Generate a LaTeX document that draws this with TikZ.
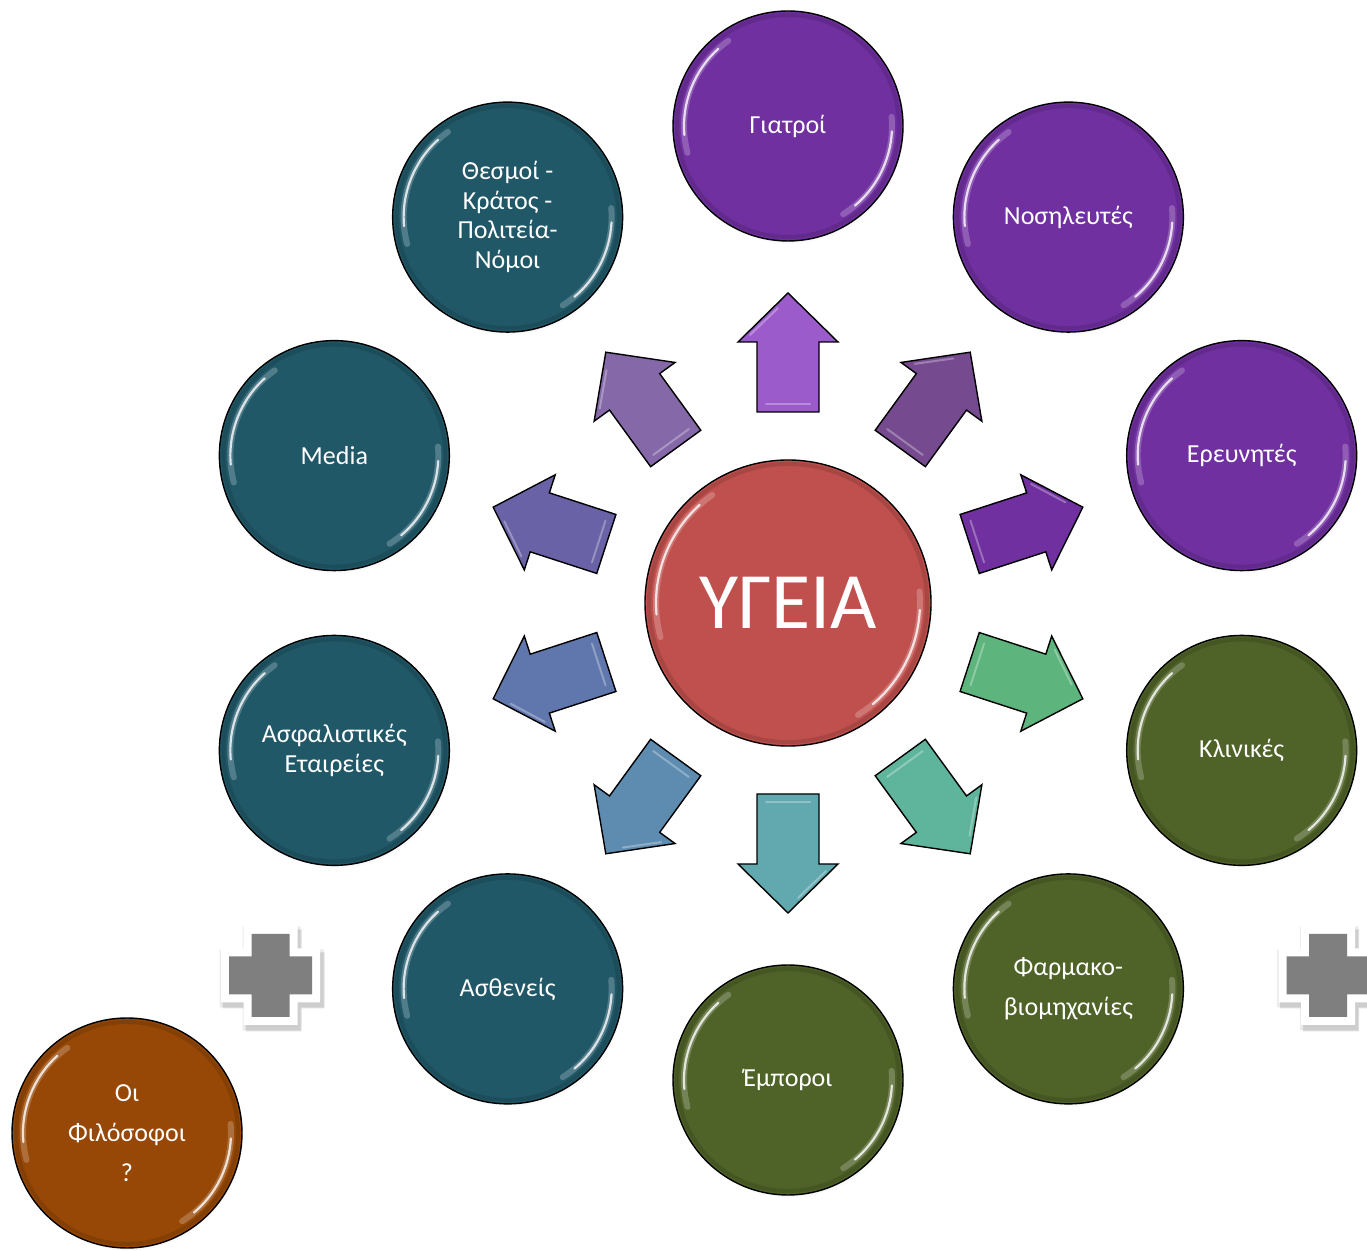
\documentclass[tikz,border=0pt]{standalone}
\usepackage{fontspec}
\setmainfont{Carlito}
\usetikzlibrary{shadows}
\definecolor{cpurple}{HTML}{7030A0}
\definecolor{cgreen}{HTML}{4F6228}
\definecolor{cteal}{HTML}{215868}
\definecolor{cred}{HTML}{C0504D}
\definecolor{corange}{HTML}{974806}
\definecolor{crossgray}{HTML}{7F7F7F}
\definecolor{aA}{HTML}{9B5BCB}
\definecolor{aB}{HTML}{754A8F}
\definecolor{aC}{HTML}{7030A0}
\definecolor{aD}{HTML}{5DB47C}
\definecolor{aE}{HTML}{5FB49C}
\definecolor{aF}{HTML}{61A9AE}
\definecolor{aG}{HTML}{5E8CB1}
\definecolor{aH}{HTML}{6077AD}
\definecolor{aI}{HTML}{6A62A6}
\definecolor{aJ}{HTML}{8468A8}
\tikzset{
  ball/.style={circle, draw=black, line width=1.4pt, minimum size=230pt, inner sep=0pt,
    text=white, align=center, font=\fontsize{26}{29.5}\selectfont,
    circular drop shadow={shadow xshift=1.5pt, shadow yshift=-3pt, opacity=0.3, shadow scale=1.0}},
  bigball/.style={ball, minimum size=286pt, font=\fontsize{80}{90}\selectfont},
  arrowbox/.style={draw=black, line width=1.4pt, line join=miter},
  gloss/.style={white, line cap=round, line width=2.2pt, opacity=0.8},
  glosswide/.style={white, line cap=round, line width=6pt, opacity=0.22},
  rim/.style={black, line width=4pt, opacity=0.12},
}
\newcommand\radarrow[2]{%
  \begin{scope}[shift={(788,647)}, rotate=#1]
    \draw[arrowbox, fill=#2] (191,-31) -- (261,-31) -- (261,-50) -- (310,0) -- (261,50) -- (261,31) -- (191,31) -- cycle;
    \draw[white, opacity=0.3, line width=2pt, line cap=round] (199,-22) -- (199,22);
    \draw[white, opacity=0.3, line width=2pt, line cap=round] (268,38) -- (295,10);
  \end{scope}}
\newcommand\glossy[2]{% node name, radius
  \draw[glosswide] ([shift={(125:#2)}]#1.center) arc[start angle=125, end angle=195, radius=#2];
  \draw[gloss] ([shift={(132:#2)}]#1.center) arc[start angle=132, end angle=185, radius=#2];
  \draw[glosswide] ([shift={(5:#2)}]#1.center) arc[start angle=5, end angle=-58, radius=#2];
  \draw[gloss] ([shift={(-3:#2)}]#1.center) arc[start angle=-3, end angle=-50, radius=#2];
}
\newcommand\plusshape[2]{% half length, half width
  (-#2,#1) -- (#2,#1) -- (#2,#2) -- (#1,#2) -- (#1,-#2) -- (#2,-#2) -- (#2,-#1) -- (-#2,-#1) -- (-#2,-#2) -- (-#1,-#2) -- (-#1,#2) -- (-#2,#2) -- cycle}
\newcommand\medcross[2]{%
  \begin{scope}[shift={(#1,#2)}]
    \fill[black, opacity=0.12] [shift={(3,-5)}] \plusshape{51}{28};
    \fill[black, opacity=0.08] [shift={(1,-3)}] \plusshape{52}{29};
    \fill[white] \plusshape{49.5}{27};
    \fill[crossgray] \plusshape{41.5}{19};
  \end{scope}}
\begin{document}
\begin{tikzpicture}[x=1pt, y=1pt]
  \clip (0,0) rectangle (1367,1250);
  \useasboundingbox (0,0) rectangle (1367,1250);
  \fill[white] (0,0) rectangle (1367,1250);
  \coordinate (C) at (788,647);

  % arrows
  \radarrow{90}{aA}
  \radarrow{54}{aB}
  \radarrow{18}{aC}
  \radarrow{-18}{aD}
  \radarrow{-54}{aE}
  \radarrow{-90}{aF}
  \radarrow{-126}{aG}
  \radarrow{-162}{aH}
  \radarrow{162}{aI}
  \radarrow{126}{aJ}

  % center
  \node[bigball, fill=cred] (health) at (C) {ΥΓΕΙΑ};
  \draw[rim] (health.center) circle[radius=139];
  \glossy{health}{132}

  % surrounding circles
  \node[ball, fill=cpurple] (giatroi) at ([shift={(90:477)}]C) {Γιατροί};
  \node[ball, fill=cpurple] (nosil) at ([shift={(54:477)}]C) {Νοσηλευτές};
  \node[ball, fill=cpurple] (ereun) at ([shift={(18:477)}]C) {Ερευνητές};
  \node[ball, fill=cgreen] (klin) at ([shift={(-18:477)}]C) {Κλινικές};
  \node[ball, fill=cgreen, font=\fontsize{26}{40}\selectfont] (farm) at ([shift={(-54:477)}]C) {Φαρμακο-\\βιομηχανίες};
  \node[ball, fill=cgreen] (empor) at ([shift={(-90:477)}]C) {Έμποροι};
  \node[ball, fill=cteal] (asth) at ([shift={(-126:477)}]C) {Ασθενείς};
  \node[ball, fill=cteal] (asfal) at ([shift={(-162:477)}]C) {Ασφαλιστικές\\Εταιρείες};
  \node[ball, fill=cteal] (media) at ([shift={(162:477)}]C) {Media};
  \node[ball, fill=cteal] (thesm) at ([shift={(126:477)}]C) {Θεσμοί -\\Κράτος -\\Πολιτεία-\\Νόμοι};
  \node[ball, fill=corange, font=\fontsize{26}{40}\selectfont] (filos) at (127,117) {Οι\\Φιλόσοφοι\\?};

  \foreach \n in {giatroi,nosil,ereun,klin,farm,empor,asth,asfal,media,thesm,filos}{
    \draw[rim] (\n.center) circle[radius=111];
    \glossy{\n}{104}}

  % crosses
  \medcross{270.5}{274.5}
  \medcross{1328}{274.5}
\end{tikzpicture}
\end{document}
